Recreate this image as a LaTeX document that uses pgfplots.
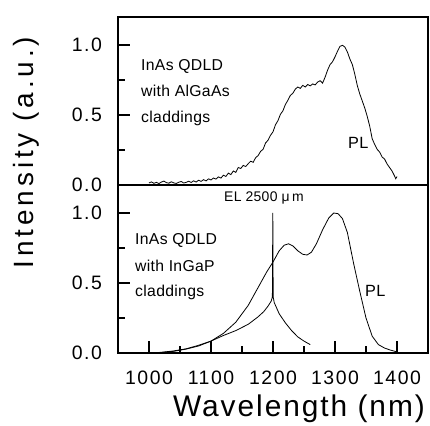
\documentclass[border=0pt]{standalone}
\usepackage{fontspec}
\setmainfont{Liberation Sans}
\newfontfamily\ticksf{Liberation Sans}[LetterSpace=8]
\newfontfamily\ylabf{Liberation Sans}[LetterSpace=14]
\newfontfamily\xlabf{Liberation Sans}[LetterSpace=6.5]
\newfontfamily\annf{Liberation Sans}[LetterSpace=2]
\usepackage{pgfplots}
\pgfplotsset{compat=1.18}
\pgfplotsset{
  panel/.style={
    anchor=south west, scale only axis, width=310bp, height=168bp,
    xmin=950, xmax=1450, ymin=0, ymax=1.2,
    ytick={0,0.5,1}, minor y tick num=1,
    tick align=inside,
    tickwidth=12bp, subtickwidth=7bp,
    every tick/.style={black, line width=1.4bp},
    every minor tick/.style={black, line width=1.4bp},
    every axis/.append style={line width=2.2bp},
    /pgf/number format/assume math mode=true,
    yticklabel style={/pgf/number format/.cd, fixed, fixed zerofill, precision=1, /tikz/.cd,
      anchor=east, inner sep=0pt, xshift=-15bp, font=\ticksf\fontsize{19.5}{22}\selectfont},
    xticklabel style={anchor=base, inner sep=0pt, yshift=-32bp,
      font=\ticksf\fontsize{19.5}{22}\selectfont},
  },
  crv/.style={black, line width=0.8bp, mark=none, solid},
}
\begin{document}
\begin{tikzpicture}
\path[use as bounding box] (0,0) rectangle (430bp,426bp);
% lower panel
\begin{axis}[panel, at={(118bp,73bp)},
  xtick={1000,1100,...,1400}, minor x tick num=1,
  xtick pos=left, ytick pos=left,
  xticklabel={\pgfmathprintnumber[fixed,1000 sep={}]{\tick}}]
\addplot[crv] coordinates {
(1000,0.0) (1020,0.004) (1040,0.012) (1060,0.028) (1080,0.05) (1100,0.085)
(1120,0.14) (1140,0.22) (1160,0.34) (1180,0.50) (1190,0.58) (1200,0.65)
(1210,0.73) (1218,0.77) (1225,0.78) (1232,0.765) (1240,0.73) (1248,0.705)
(1255,0.70) (1262,0.72) (1270,0.78) (1280,0.88) (1290,0.965) (1298,1.0)
(1305,0.995) (1312,0.96) (1320,0.86) (1330,0.64) (1340,0.44) (1350,0.25)
(1360,0.12) (1370,0.06) (1380,0.035) (1390,0.02) (1400,0.008)
};
\addplot[crv] coordinates {
(1000,0.0) (1020,0.005) (1040,0.015) (1060,0.03) (1080,0.055) (1100,0.085)
(1120,0.125) (1140,0.16) (1160,0.205) (1175,0.255) (1185,0.295) (1192,0.335)
(1197,0.37) (1199,0.40) (1199.7,1.0) (1200.3,0.40) (1202,0.36) (1210,0.28)
(1220,0.215) (1230,0.16) (1240,0.115) (1250,0.085) (1260,0.06)
};
\end{axis}
% upper panel
\begin{axis}[panel, at={(118bp,241bp)},
  xtick=\empty, ytick pos=left]
\addplot[crv] coordinates {
(1000,0.015) (1004,0.022) (1008,0.012) (1012,0.019) (1016,0.010) (1020,0.021)
(1024,0.028) (1028,0.017) (1032,0.013) (1036,0.023) (1040,0.015) (1044,0.011)
(1048,0.020) (1052,0.025) (1056,0.014) (1060,0.019) (1064,0.027) (1068,0.018)
(1072,0.030) (1076,0.021) (1080,0.034) (1084,0.026) (1088,0.038) (1092,0.029)
(1096,0.044) (1100,0.036) (1104,0.050) (1108,0.042) (1112,0.058) (1116,0.049)
(1120,0.070) (1124,0.061) (1128,0.085) (1132,0.074) (1136,0.100) (1140,0.090)
(1144,0.125) (1148,0.118) (1152,0.140) (1156,0.132) (1160,0.152) (1164,0.170)
(1168,0.162) (1172,0.195) (1176,0.210) (1180,0.240) (1184,0.255) (1188,0.300)
(1192,0.320) (1196,0.355) (1200,0.380) (1204,0.430) (1208,0.460) (1212,0.505)
(1216,0.530) (1220,0.575) (1224,0.605) (1228,0.640) (1232,0.655) (1236,0.685)
(1240,0.700) (1244,0.690) (1248,0.712) (1252,0.700) (1256,0.718) (1260,0.708)
(1264,0.722) (1268,0.715) (1272,0.735) (1276,0.745) (1280,0.728) (1284,0.770)
(1288,0.820) (1292,0.860) (1296,0.880) (1300,0.915) (1304,0.955) (1308,0.990)
(1312,0.998) (1316,0.985) (1320,0.950) (1324,0.900) (1328,0.860) (1332,0.790)
(1336,0.710) (1340,0.650) (1344,0.600) (1348,0.550) (1352,0.490) (1356,0.420)
(1360,0.330) (1364,0.290) (1368,0.255) (1372,0.235) (1376,0.200) (1380,0.185)
(1384,0.150) (1388,0.125) (1392,0.100) (1396,0.065) (1398,0.045) (1400,0.060)
};
\end{axis}
% labels
\node[rotate=90, anchor=base, inner sep=0pt] at (33bp,273.5bp)
  {\ylabf\fontsize{28}{30}\selectfont Intensity (a.u.)};
\node[anchor=base, inner sep=0pt] at (299bp,9.3bp)
  {\xlabf\fontsize{30}{32}\selectfont Wavelength (nm)};
% annotations
\begin{scope}[every node/.style={anchor=base west, inner sep=0pt, font=\annf\fontsize{15.8}{18}\selectfont}]
\node at (141bp,355.3bp) {InAs QDLD};
\node at (141bp,329.3bp) {with AlGaAs};
\node at (141bp,303.3bp) {claddings};
\node at (135bp,181bp) {InAs QDLD};
\node at (135bp,154.3bp) {with InGaP};
\node at (135bp,129bp) {claddings};
\end{scope}
\node[anchor=base west, inner sep=0pt, font=\annf\fontsize{14}{16}\selectfont] at (224bp,224.3bp) {EL 2500 μ\,m};
\node[anchor=base west, inner sep=0pt, font=\annf\fontsize{16.3}{18}\selectfont] at (348bp,277.7bp) {PL};
\node[anchor=base west, inner sep=0pt, font=\annf\fontsize{16.3}{18}\selectfont] at (365bp,129bp) {PL};
\end{tikzpicture}
\end{document}
